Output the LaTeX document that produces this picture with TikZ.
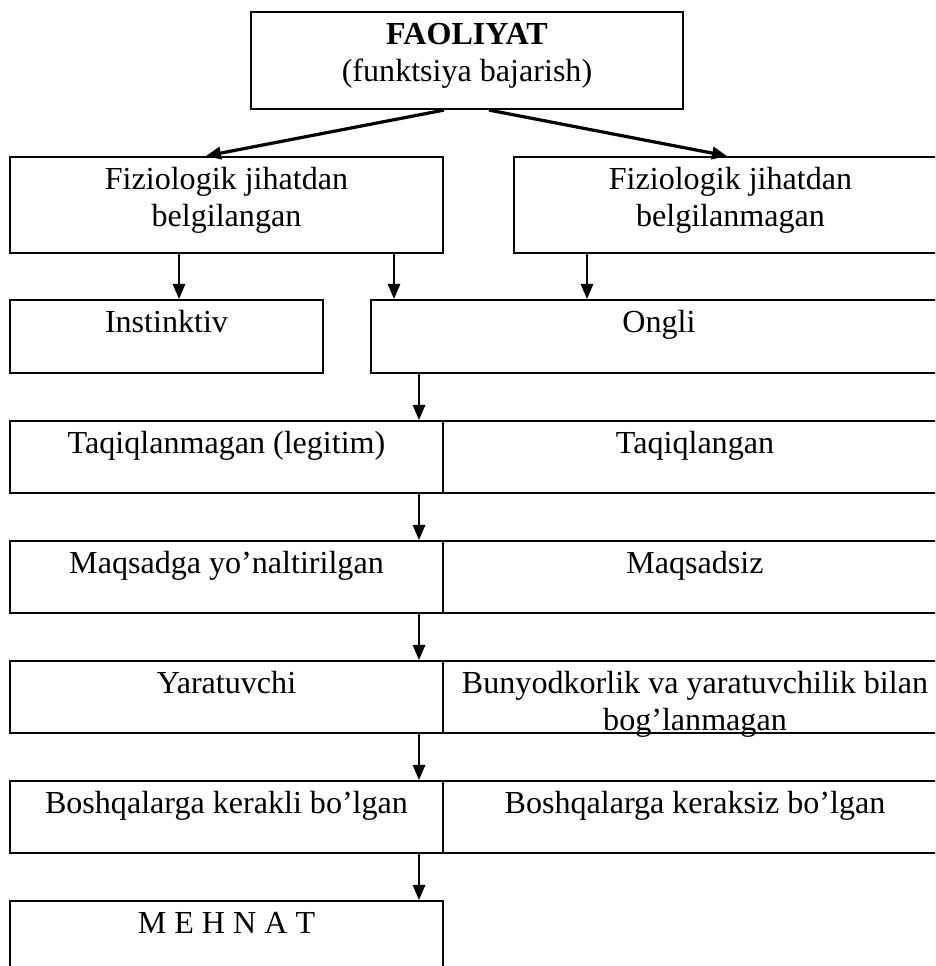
\documentclass[tikz,border=0pt]{standalone}
\usepackage{fontspec}
\setmainfont{Liberation Serif}
\usetikzlibrary{positioning}
\usetikzlibrary{fit}
\usetikzlibrary{arrows.meta}
\tikzset{
	box/.style={draw, black, line width=0.8pt, inner sep=0pt},
	txt/.style={inner sep=0pt, align=center, font={\fontsize{12}{13.8}\selectfont}},
	arr/.style={-{Triangle[length=5.6pt,width=4.6pt]}, black, line width=0.8pt},
}
\begin{document}
\begin{tikzpicture}[x=0.374pt, y=-0.374pt]
						\useasboundingbox (0,0) rectangle (935,966);
						\clip (0,0) rectangle (935,966);
						% boxes
						\node[box, fit={(251,12) (683,109)}] (top) {};
						\node[box, fit={(10,157) (443,253)}] (bel) {};
						\node[box, fit={(514,157) (947,253)}] (belm) {};
						\node[box, fit={(10,300) (323,373)}] (inst) {};
						\node[box, fit={(371,300) (947,373)}] (ongli) {};
						\node[box, fit={(10,421) (443,493)}] (taqL) {};
						\node[box, fit={(443,421) (947,493)}] (taqR) {};
						\node[box, fit={(10,541) (443,613)}] (maqL) {};
						\node[box, fit={(443,541) (947,613)}] (maqR) {};
						\node[box, fit={(10,661) (443,733)}] (yarL) {};
						\node[box, fit={(443,661) (947,733)}] (yarR) {};
						\node[box, fit={(10,781) (443,853)}] (boshL) {};
						\node[box, fit={(443,781) (947,853)}] (boshR) {};
						\node[box, fit={(10,901) (443,995)}] (mehnat) {};
						% texts
						\node[txt, below=2.6pt of top.north] (topT) {\strut\textbf{FAOLIYAT}\\(funktsiya bajarish)};
						\node[txt, below=2.6pt of bel.north] (belT) {\strut Fiziologik jihatdan\\belgilangan};
						\node[txt, below=2.6pt of belm.north] (belmT) {\strut Fiziologik jihatdan\\belgilanmagan};
						\node[txt, below=2.6pt of inst.north] (instT) {\strut Instinktiv};
						\node[txt, below=2.6pt of ongli.north] (ongliT) {\strut Ongli};
						\node[txt, below=2.6pt of taqL.north] (taqLT) {\strut Taqiqlanmagan (legitim)};
						\node[txt, below=2.6pt of taqR.north] (taqRT) {\strut Taqiqlangan};
						\node[txt, below=2.6pt of maqL.north] (maqLT) {\strut Maqsadga yo’naltirilgan};
						\node[txt, below=2.6pt of maqR.north] (maqRT) {\strut Maqsadsiz};
						\node[txt, below=2.6pt of yarL.north] (yarLT) {\strut Yaratuvchi};
						\node[txt, below=2.6pt of yarR.north] (yarRT) {\strut Bunyodkorlik va yaratuvchilik bilan\\bog’lanmagan};
						\node[txt, below=2.6pt of boshL.north] (boshLT) {\strut Boshqalarga kerakli bo’lgan};
						\node[txt, below=2.6pt of boshR.north] (boshRT) {\strut Boshqalarga keraksiz bo’lgan};
						\node[txt, below=2.6pt of mehnat.north] (mehnatT) {\strut M E H N A T};
						% arrows
						\coordinate (xa) at (179,0);
						\coordinate (xb) at (394,0);
						\coordinate (xc) at (587,0);
						\coordinate (xd) at (419,0);
						\coordinate (ta) at (444,0);
						\coordinate (tb) at (489,0);
						\coordinate (ha) at (206,0);
						\coordinate (hb) at (727,0);
						\draw [arr, line width=1.2pt](top.south -| ta) to(bel.north -| ha);
						\draw [arr, line width=1.2pt](top.south -| tb) to(belm.north -| hb);
						\draw [arr](bel.south -| xa) to(inst.north -| xa);
						\draw [arr](bel.south -| xb) to(ongli.north -| xb);
						\draw [arr](belm.south -| xc) to(ongli.north -| xc);
						\foreach \a/\b in {ongli/taqL, taqL/maqL, maqL/yarL, yarL/boshL, boshL/mehnat}
							\draw [arr](\a.south -| xd) to(\b.north -| xd);
					\end{tikzpicture}
\end{document}
